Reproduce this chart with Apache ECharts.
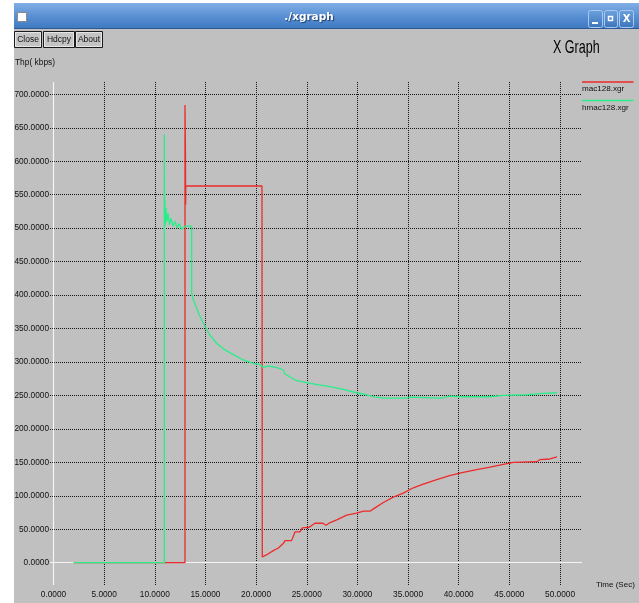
<!DOCTYPE html>
<html>
<head>
<meta charset="utf-8">
<title>./xgraph</title>
<script src="https://cdn.jsdelivr.net/npm/echarts@6/dist/echarts.min.js"></script>
<style>
html, body { margin: 0; padding: 0; background: #ffffff; }
#chart { width: 639px; height: 603px; }
</style>
</head>
<body>
<div id="chart"></div>
<script>
// mac128.xgr : throughput over time (s -> kbps)
const macTime = [2.0, 12.98, 12.98, 13.03, 13.04, 13.06, 20.58, 20.61, 21.05, 21.7, 22.2, 22.7, 22.85, 23.5, 23.84,
  24.33, 24.56, 25.25, 25.8, 26.6, 26.9, 27.3, 27.96, 28.94, 29.93, 30.6, 31.24, 31.74, 32.56, 33.54, 34.53,
  35.52, 36.5, 37.83, 39.1, 40.45, 41.78, 43.1, 44.4, 45.4, 47.7, 48.0, 49.0, 49.7];
const macThp = [0, 0, 684, 602, 535, 563, 563, 8.5, 12, 18, 22, 29, 33, 33, 46,
  46, 52, 53, 59, 59, 56, 60, 64, 71, 74, 77, 77, 82, 90, 98, 104,
  112, 117.5, 124, 130, 135, 139, 143, 147, 150, 151, 154, 155, 158];

// hmac128.xgr : throughput over time (s -> kbps)
const hmacTime = [2.0, 10.94, 10.94, 10.97, 11.0, 11.05, 11.1, 11.2, 11.3, 11.45, 11.6, 11.8, 12.0, 12.2, 12.4,
  12.65, 13.0, 13.64, 13.64, 13.8, 14.14, 14.46, 14.96, 15.45, 16.1, 16.93, 17.75, 18.74, 19.72, 20.4,
  20.7, 21.2, 22.0, 22.7, 22.85, 24.0, 25.0, 26.0, 27.3, 28.6, 29.9, 30.9, 31.7, 32.6, 34.9,
  35.2, 38.3, 39.1, 40.45, 43.1, 44.4, 46.7, 48.35, 49.7];
const hmacThp = [0, 0, 640, 502, 542, 505, 530, 510, 522, 505, 515, 503, 510, 500, 507,
  498, 503, 503, 403, 393, 380, 368, 353, 340, 328, 318, 311, 303, 298, 296,
  292, 294, 292, 288, 282, 272, 269, 266, 263, 259, 254, 251, 248, 246, 246,
  247.5, 246, 249, 248, 248, 250, 251, 253, 254];

const seriesNames = ['mac128.xgr', 'hmac128.xgr'];
const seriesColors = ['#ee2a2a', '#27ef88'];

const xTickStep = 5;     // seconds between vertical grid lines
const yTickStep = 50;    // kbps between horizontal grid lines
const xRange = [-0.345, 52.17];
const yRange = [-33.3, 718.4];
const tickDecimals = 4;

const windowTitle = './xgraph';
const graphTitle = 'X Graph';
const xAxisTitle = 'Time (Sec)';
const yAxisTitle = 'Thp( kbps)';
const buttonLabels = ['Close', 'Hdcpy', 'About'];

const FONT = 'Liberation Sans';

function pairs(ts, vs) { return ts.map((t, i) => [t, vs[i]]); }
function tickFormatter(step) {
  return v => {
    const k = v / step;
    return Math.abs(k - Math.round(k)) < 1e-6 ? v.toFixed(tickDecimals) : '';
  };
}

const gridLine = { color: '#151515', width: 1, type: [1, 1] };
const zeroLine = { color: '#f4f4f4', type: 'solid', width: 1.2 };

// window chrome: title bar, buttons, captions, legend
const buttonBoxes = [[14, 31, 27, 16], [43, 31, 31, 16], [75, 31, 27, 16]];
const graphic = [
  { type: 'rect', shape: { x: 0, y: 0, width: 14, height: 603 }, style: { fill: '#ffffff' } },
  { type: 'rect', shape: { x: 0, y: 0, width: 639, height: 3 }, style: { fill: '#ffffff' } },
  { type: 'rect', shape: { x: 14, y: 3, width: 625, height: 26 },
    style: { fill: { type: 'linear', x: 0, y: 0, x2: 0, y2: 1,
      colorStops: [{ offset: 0, color: '#80afe4' }, { offset: 0.5, color: '#5a90d4' }, { offset: 1, color: '#3d78c0' }] } } },
  { type: 'rect', shape: { x: 14, y: 28, width: 625, height: 1 }, style: { fill: '#2b5a94' } },
  { type: 'rect', shape: { x: 17.5, y: 12.5, width: 9, height: 9 }, style: { fill: '#ffffff', stroke: '#8a8a8a', lineWidth: 1 } },
  { type: 'text', x: 309, y: 17,
    style: { text: windowTitle, fill: '#ffffff', font: 'bold 10.5px "DejaVu Sans"', align: 'center', verticalAlign: 'middle',
      textShadowColor: '#1d3d6e', textShadowOffsetX: 1, textShadowOffsetY: 1, textShadowBlur: 1 } }
];
// title bar window buttons
[[588, 10, 14, 17], [604, 10, 13, 17], [619, 10, 14, 17]].forEach(b => {
  graphic.push({ type: 'rect', shape: { x: b[0] + 0.5, y: b[1] + 0.5, width: b[2], height: b[3], r: 2 },
    style: { fill: { type: 'linear', x: 0, y: 0, x2: 0, y2: 1,
      colorStops: [{ offset: 0, color: '#6ea2de' }, { offset: 1, color: '#3a74bc' }] }, stroke: '#a9c9ef', lineWidth: 1 } });
});
graphic.push(
  { type: 'rect', shape: { x: 592, y: 22, width: 6, height: 2 }, style: { fill: '#ffffff' } },
  { type: 'rect', shape: { x: 608.5, y: 16.5, width: 4, height: 4 }, style: { fill: 'none', stroke: '#ffffff', lineWidth: 1.5 } },
  { type: 'text', x: 626.5, y: 19, style: { text: 'X', fill: '#ffffff', font: 'bold 10px "DejaVu Sans"', align: 'center', verticalAlign: 'middle' } }
);
// Close / Hdcpy / About buttons
buttonLabels.forEach((label, i) => {
  const b = buttonBoxes[i];
  graphic.push(
    { type: 'rect', shape: { x: b[0] + 0.5, y: b[1] + 0.5, width: b[2], height: b[3] }, style: { fill: '#c4c4c4', stroke: '#1a1a1a', lineWidth: 1 } },
    { type: 'rect', shape: { x: b[0] + 1.5, y: b[1] + 1.5, width: b[2] - 2, height: b[3] - 2 }, style: { fill: 'none', stroke: '#e6e6e6', lineWidth: 1 } },
    { type: 'text', x: b[0] + b[2] / 2 + 0.5, y: b[1] + b[3] / 2 + 0.5,
      style: { text: label, fill: '#111111', font: '8.5px "' + FONT + '"', align: 'center', verticalAlign: 'middle' } }
  );
});
graphic.push(
  { type: 'text', x: 15, y: 62.5, style: { text: yAxisTitle, fill: '#111111', font: '8.4px "' + FONT + '"', align: 'left', verticalAlign: 'middle' } },
  { type: 'text', x: 553, y: 48, scaleX: 0.66,
    style: { text: graphTitle, fill: '#000000', font: '19px "' + FONT + '"', align: 'left', verticalAlign: 'middle' } },
  { type: 'text', x: 596, y: 584.5, style: { text: xAxisTitle, fill: '#111111', font: '8px "' + FONT + '"', align: 'left', verticalAlign: 'middle' } }
);
// legend: coloured line above each file name
seriesNames.forEach((name, i) => {
  const y0 = 82 + i * 18.5;
  graphic.push(
    { type: 'rect', shape: { x: 582, y: y0 - 0.75, width: 51.5, height: 1.5 }, style: { fill: seriesColors[i] } },
    { type: 'text', x: 582, y: y0 + 7, style: { text: name, fill: '#111111', font: '8.1px "' + FONT + '"', align: 'left', verticalAlign: 'middle' } }
  );
});

const chart = echarts.init(document.getElementById('chart'), null, { renderer: 'canvas' });
chart.setOption({
  animation: false,
  backgroundColor: '#c0c0c0',
  graphic: graphic,
  grid: { left: 50, top: 82, width: 532, height: 503, containLabel: false, outerBoundsMode: 'none' },
  xAxis: {
    type: 'value', min: xRange[0], max: xRange[1],
    minInterval: xTickStep, maxInterval: xTickStep, splitNumber: 10,
    axisLine: { show: false, onZero: false },
    axisTick: { show: false },
    axisLabel: { show: true, margin: 6, showMinLabel: true, showMaxLabel: true, formatter: tickFormatter(xTickStep),
      color: '#111111', fontFamily: FONT, fontSize: 8.3 },
    splitLine: { show: true, showMinLine: false, showMaxLine: false, lineStyle: gridLine }
  },
  yAxis: {
    type: 'value', min: yRange[0], max: yRange[1],
    minInterval: yTickStep, maxInterval: yTickStep, splitNumber: 15,
    axisLine: { show: false, onZero: false },
    axisTick: { show: false },
    axisLabel: { show: true, margin: 1, showMinLabel: true, showMaxLabel: true, formatter: tickFormatter(yTickStep),
      color: '#111111', fontFamily: FONT, fontSize: 8.3 },
    splitLine: { show: true, showMinLine: false, showMaxLine: false, lineStyle: gridLine }
  },
  series: [
    {
      name: seriesNames[0], type: 'line', data: pairs(macTime, macThp), z: 3,
      symbol: 'none', showSymbol: false,
      lineStyle: { color: seriesColors[0], width: 1.3 }, itemStyle: { color: seriesColors[0] },
      // white zero axes through the origin
      markLine: {
        silent: true, symbol: 'none', z: 1, animation: false,
        label: { show: false },
        lineStyle: zeroLine,
        data: [{ yAxis: 0 }, { xAxis: 0 }]
      }
    },
    {
      name: seriesNames[1], type: 'line', data: pairs(hmacTime, hmacThp), z: 4,
      symbol: 'none', showSymbol: false,
      lineStyle: { color: seriesColors[1], width: 1.3 }, itemStyle: { color: seriesColors[1] }
    }
  ]
});
</script>
</body>
</html>
